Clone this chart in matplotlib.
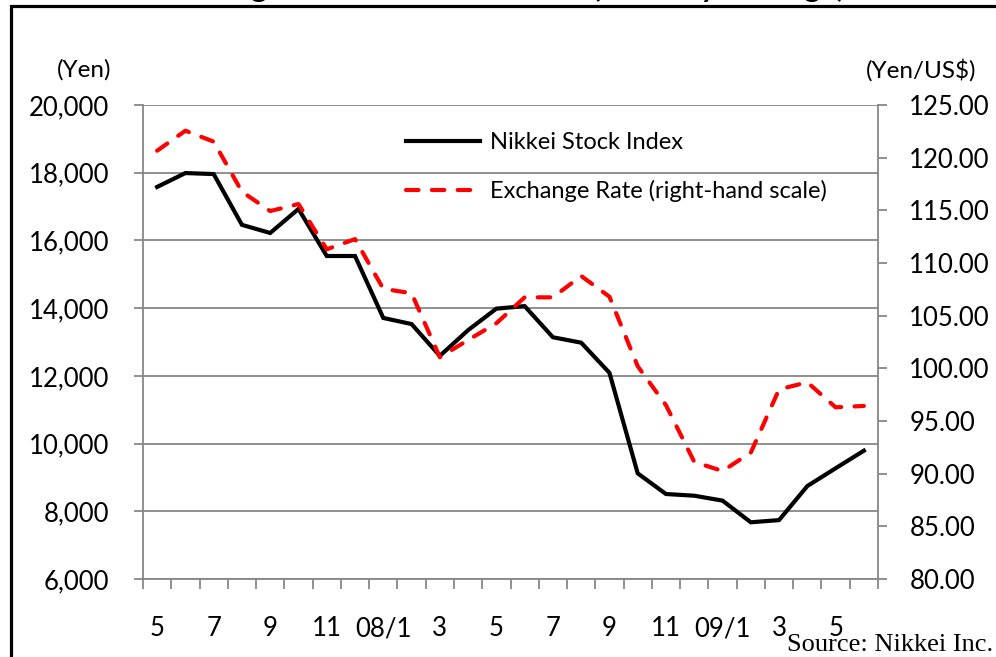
import matplotlib
matplotlib.use("Agg")
import matplotlib.pyplot as plt
from matplotlib.patches import Rectangle
from matplotlib.ticker import FuncFormatter, MultipleLocator, FixedLocator
import numpy as np

plt.rcParams['font.family'] = ['Lato', 'DejaVu Sans']

# ---- data ----
months = ['5', '6', '7', '8', '9', '10', '11', '12', '08/1', '2', '3', '4', '5',
          '6', '7', '8', '9', '10', '11', '12', '09/1', '2', '3', '4', '5', '6']
tick_labels = ['5', '7', '9', '11', '08/1', '3', '5', '7', '9', '11', '09/1', '3', '5']
nikkei = [17580, 17990, 17960, 16460, 16220, 16930, 15540, 15540, 13710, 13530,
          12590, 13350, 13985, 14060, 13140, 12980, 12090, 9120, 8510, 8460,
          8315, 7675, 7740, 8745, 9270, 9790]
fx = [120.66, 122.56, 121.52, 116.77, 114.93, 115.60, 111.30, 112.27, 107.55, 107.13,
      101.05, 102.69, 104.28, 106.74, 106.74, 108.77, 106.80, 100.20, 96.50, 91.12,
      90.25, 92.00, 98.00, 98.68, 96.30, 96.43]

W, H = 996, 657
fig = plt.figure(figsize=(W / 100, H / 100), dpi=100)

# outer frame
fig.patches.append(Rectangle((10.5 / W, -0.1), 1.2, 1.1 - 5.5 / H, transform=fig.transFigure,
                             fill=False, edgecolor='black', linewidth=2.3, zorder=0))
# (cut-off) title
fig.text(845 / W, 1 + 3 / H, 'Exchange Rate and Stock Prices (Monthly Average)',
         ha='right', va='baseline', fontsize=22, fontweight='bold')

ax = fig.add_axes([143 / W, 1 - 579 / H, 735 / W, 474 / H])
ax2 = ax.twinx()

grey = '#878787'
x = np.arange(len(months))

l1, = ax2.plot([], [], color='black', lw=3, label='Nikkei Stock Index')
ax.plot(x, nikkei, color='black', lw=3, solid_joinstyle='miter', zorder=3)
l2, = ax2.plot(x, fx, color='#ff0000', lw=3, dashes=(3, 3.2), dash_capstyle='round',
               label='Exchange Rate (right-hand scale)')

ax.set_xlim(-0.5, len(months) - 0.5)
ax.set_ylim(6000, 20000)
ax2.set_ylim(80, 125)
ax.yaxis.set_major_locator(MultipleLocator(2000))
ax2.yaxis.set_major_locator(MultipleLocator(5))
ax.yaxis.set_major_formatter(FuncFormatter(lambda v, p: f'{int(v):,}'))
ax2.yaxis.set_major_formatter(FuncFormatter(lambda v, p: f'{v:.2f}'))

ax.xaxis.set_major_locator(FixedLocator(np.arange(-0.5, len(months), 1.0)))
ax.set_xticklabels([])
ax.xaxis.set_minor_locator(FixedLocator(np.arange(0, len(months), 2)))
ax.set_xticklabels(tick_labels, minor=True)

ax.grid(axis='y', color=grey, lw=1.3)
ax.set_axisbelow(True)
for a in (ax, ax2):
    a.spines['top'].set_visible(False)
    for s in ('left', 'right', 'bottom'):
        a.spines[s].set_color(grey)
        a.spines[s].set_linewidth(1.3)
ax2.spines['left'].set_visible(False)
ax2.spines['bottom'].set_visible(False)
ax.spines['right'].set_visible(False)

ax.tick_params(axis='y', which='major', direction='out', length=6.5, width=1.3, color=grey,
               labelsize=18.5, pad=18)
ax2.tick_params(axis='y', which='major', direction='out', length=6.5, width=1.3, color=grey,
                labelsize=18.5, pad=16)
ax.tick_params(axis='x', which='major', direction='out', length=7, width=1.3, color=grey)
ax.tick_params(axis='x', which='minor', length=0, labelsize=18.5, pad=27)

ax.set_zorder(2)
ax.patch.set_visible(False)
ax2.set_zorder(3)

fig.text(84 / W, 1 - 70 / H, '(Yen)', ha='center', va='center', fontsize=17.5)
fig.text(921 / W, 1 - 70 / H, '(Yen/US$)', ha='center', va='center', fontsize=17.5)

leg = ax2.legend(handles=[l1, l2], loc='upper left',
                 bbox_to_anchor=(406 / W, 1 - 132 / H), bbox_transform=fig.transFigure,
                 frameon=False, fontsize=17, handlelength=3.13, handletextpad=0.42,
                 labelspacing=1.16, borderpad=0, borderaxespad=0)

fig.text(993 / W, 1 - 651 / H, 'Source: Nikkei Inc.', ha='right', va='baseline',
         fontsize=19, family='Liberation Serif')

fig.savefig('out.png', dpi=100)
